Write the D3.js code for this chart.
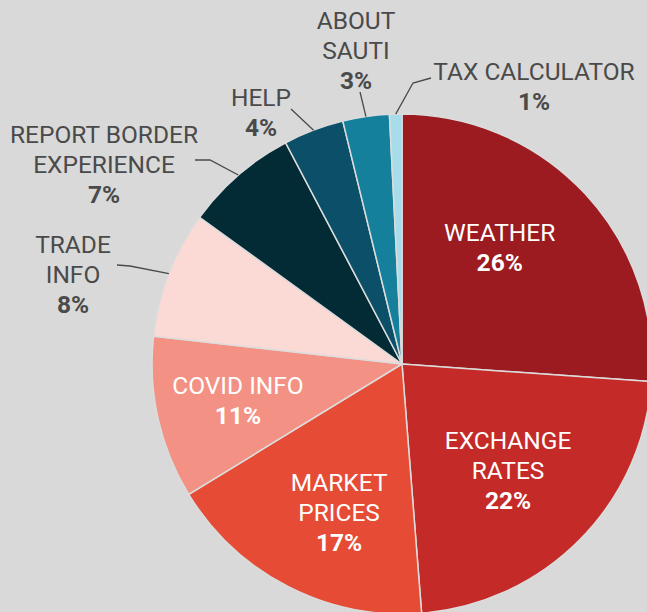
<!DOCTYPE html>
<html>
<head>
  <script src="https://d3js.org/d3.v7.min.js"></script>
  <style>
    body { margin: 0; background: #d9d9d9; }
    svg { display: block; font-family: Roboto, "Open Sans", sans-serif; }
    .name { font-size: 24.5px; font-weight: 400; }
    .pct { font-size: 24.5px; font-weight: 700; }
    .leader { fill: none; stroke: #4a4a4a; stroke-width: 1.3; }
  </style>
</head>
<body>
  <div class="chart"></div>
  <script>
    // data (share of the whole, % label shown)
    const categories = ["WEATHER", "EXCHANGE RATES", "MARKET PRICES", "COVID INFO", "TRADE INFO",
                        "REPORT BORDER EXPERIENCE", "HELP", "ABOUT SAUTI", "TAX CALCULATOR"];
    const shares = [26.1, 22.6, 17.5, 10.5, 8.2, 7.3, 3.9, 3.0, 0.8];
    const pctLabels = ["26%", "22%", "17%", "11%", "8%", "7%", "4%", "3%", "1%"];
    const nameLines = [["WEATHER"], ["EXCHANGE", "RATES"], ["MARKET", "PRICES"], ["COVID INFO"],
                       ["TRADE", "INFO"], ["REPORT BORDER", "EXPERIENCE"], ["HELP"], ["ABOUT", "SAUTI"],
                       ["TAX CALCULATOR"]];
    const colors = ["#9b1b20", "#c42a27", "#e54b35", "#f39284", "#fbd9d5",
                    "#022b36", "#0b5068", "#14809c", "#a8dcea"];

    const width = 647, height = 612;
    const cx = 402, cy = 364, radius = 250;

    // label placement: inside labels in polar form, outside labels with leader lines
    const inside = {
      0: { angle: 40, r: 152 },
      1: { angle: 135, r: 150 },
      2: { angle: 203, r: 161 },
      3: { angle: 257.5, r: 168 }
    };
    const outside = {
      4: { text: [73, 244], elbow: [130, 266], end: [117, 265] },
      5: { text: [104, 134], elbow: [210, 160], end: [195, 160] },
      6: { text: [261, 97], elbow: [291, 109], end: [291, 109] },
      7: { text: [356, 20], elbow: [360, 92], end: [360, 92] },
      8: { text: [534, 71], elbow: [413, 83], end: [431, 78] }
    };
    const lineH = 30;

    const svg = d3.select(".chart").append("svg")
      .attr("width", width)
      .attr("height", height);

    const g = svg.append("g").attr("transform", `translate(${cx},${cy})`);

    const data = categories.map((c, i) => ({ name: c, value: shares[i], i }));
    const pie = d3.pie().value(d => d.value).sort(null);
    const arcs = pie(data);

    const arc = d3.arc().innerRadius(0).outerRadius(radius);
    const edge = d3.arc().innerRadius(radius).outerRadius(radius);

    g.selectAll("path.slice")
      .data(arcs)
      .join("path")
      .attr("class", "slice")
      .attr("d", arc)
      .attr("fill", d => colors[d.data.i])
      .attr("stroke", "#dcdcdc")
      .attr("stroke-width", 1.5);

    // leader lines
    arcs.forEach(a => {
      const o = outside[a.data.i];
      if (!o) return;
      const p = edge.centroid(a);
      const pts = [[p[0] + cx, p[1] + cy], o.elbow, o.end];
      svg.append("path")
        .attr("class", "leader")
        .attr("d", d3.line()(pts));
    });

    function drawLabel(x, y, i, fill) {
      const lines = nameLines[i];
      const t = svg.append("text")
        .attr("text-anchor", "middle")
        .attr("fill", fill);
      lines.forEach((l, k) => {
        t.append("tspan")
          .attr("class", "name")
          .attr("x", x)
          .attr("y", y + k * lineH)
          .attr("dy", "0.35em")
          .text(l);
      });
      t.append("tspan")
        .attr("class", "pct")
        .attr("x", x)
        .attr("y", y + lines.length * lineH)
        .attr("dy", "0.35em")
        .text(pctLabels[i]);
    }

    arcs.forEach(a => {
      const i = a.data.i;
      if (inside[i]) {
        const ang = inside[i].angle * Math.PI / 180;
        const r = inside[i].r;
        const x = cx + r * Math.sin(ang);
        const yMid = cy - r * Math.cos(ang);
        const n = nameLines[i].length + 1;
        drawLabel(x, yMid - (n - 1) * lineH / 2, i, "#ffffff");
      } else {
        const o = outside[i];
        drawLabel(o.text[0], o.text[1], i, "#4a4a4a");
      }
    });
  </script>
</body>
</html>
